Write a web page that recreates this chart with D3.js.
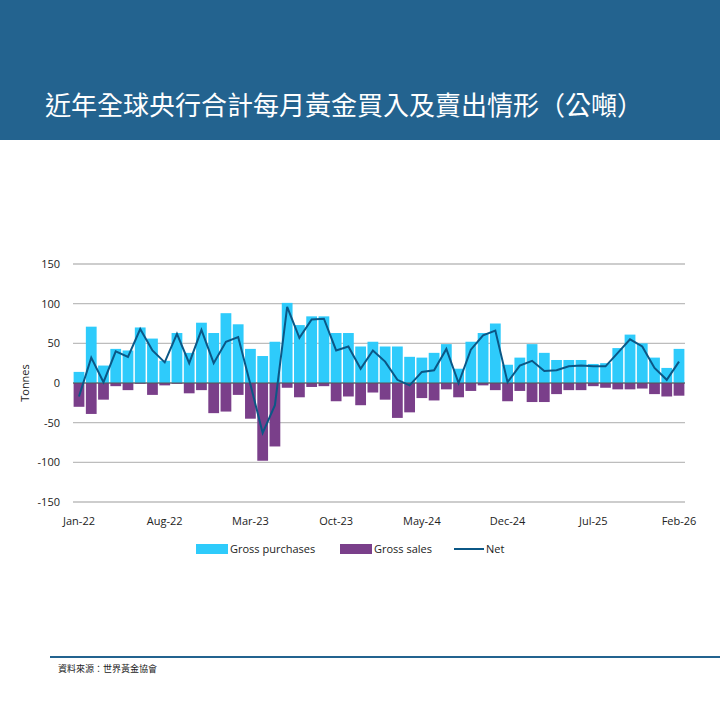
<!DOCTYPE html>
<html><head><meta charset="utf-8">
<script src="https://cdn.jsdelivr.net/npm/d3@7"></script>
<style>body{margin:0;background:#fff}svg{display:block;font-family:"Open Sans","Noto Sans CJK TC",sans-serif}</style>
</head><body><svg id="c" width="720" height="720"></svg>
<script>
const months = ["Jan-22","Feb-22","Mar-22","Apr-22","May-22","Jun-22","Jul-22","Aug-22","Sep-22","Oct-22","Nov-22","Dec-22",
"Jan-23","Feb-23","Mar-23","Apr-23","May-23","Jun-23","Jul-23","Aug-23","Sep-23","Oct-23","Nov-23","Dec-23",
"Jan-24","Feb-24","Mar-24","Apr-24","May-24","Jun-24","Jul-24","Aug-24","Sep-24","Oct-24","Nov-24","Dec-24",
"Jan-25","Feb-25","Mar-25","Apr-25","May-25","Jun-25","Jul-25","Aug-25","Sep-25","Oct-25","Nov-25","Dec-25",
"Jan-26","Feb-26"];
const grossPurchases = [14,71,22,43,41,70,56,28,63,38,76,63, 88,74,43,34,52,101,73,84,84,63,63,46, 52,46,46,33,32,38,49,18,52,63,75,23, 32,49,38,29,29,29,24,25,44,61,50,32, 19,43];
const grossSales = [-30,-39,-21,-4,-9,-1,-15,-3,-1,-13,-9,-38, -36,-15,-45,-98,-80,-6,-18,-5,-4,-23,-17,-28, -12,-21,-44,-37,-19,-22,-8,-18,-10,-3,-9,-23, -10,-24,-24,-14,-9,-9,-4,-6,-8,-8,-7,-14, -17,-16];
const net = [-17,32,1,40,33,68,41,26,62,25,67,25, 52,58,-2,-63,-28,96,57,80,81,41,46,18, 41,27,4,-3,14,16,43,0,42,60,66,1, 22,28,15,16,21,22,21,21,38,55,46,19, 4,27];
const xTicks = ["Jan-22","Aug-22","Mar-23","Oct-23","May-24","Dec-24","Jul-25","Feb-26"];
const yTicks = [150,100,50,0,-50,-100,-150];

const svg = d3.select("#c");
svg.append("rect").attr("width",720).attr("height",140).attr("fill","#23638f");
svg.append("text").attr("x",45).attr("y",115).attr("fill","#fff").attr("font-size",26)
  .attr("font-family","'Noto Sans CJK TC',sans-serif").text("近年全球央行合計每月黃金買入及賣出情形（公噸）");

const x = d3.scaleBand().domain(months).range([73,685]).paddingInner(0.12).paddingOuter(0.05);
const y = d3.scaleLinear().domain([-150,150]).range([502,264]);

const g = svg.append("g");
yTicks.forEach(t=>{
  g.append("line").attr("x1",73).attr("x2",685).attr("y1",y(t)).attr("y2",y(t))
   .attr("stroke","#bdbdbd").attr("stroke-width",1.3);
  g.append("text").attr("x",60).attr("y",y(t)+4).attr("text-anchor","end").attr("font-size",11).attr("fill","#222").text(t);
});
g.selectAll(".p").data(months).join("rect").attr("x",d=>x(d)).attr("width",x.bandwidth())
  .attr("y",(d,i)=>y(grossPurchases[i])).attr("height",(d,i)=>y(0)-y(grossPurchases[i])).attr("fill","#2ecbfb");
g.selectAll(".s").data(months).join("rect").attr("x",d=>x(d)).attr("width",x.bandwidth())
  .attr("y",y(0)).attr("height",(d,i)=>y(grossSales[i])-y(0)).attr("fill","#7a3f8a");
g.append("line").attr("x1",73).attr("x2",685).attr("y1",y(0)).attr("y2",y(0)).attr("stroke","#555").attr("stroke-width",1);
g.append("path").datum(net).attr("fill","none").attr("stroke","#0b5786").attr("stroke-width",2)
  .attr("d",d3.line().x((d,i)=>x(months[i])+x.bandwidth()/2).y(d=>y(d)));
xTicks.forEach(t=>{
  g.append("text").attr("x",x(t)+x.bandwidth()/2).attr("y",525).attr("text-anchor","middle").attr("font-size",11).attr("fill","#222").text(t);
});
svg.append("text").attr("transform","translate(29,383) rotate(-90)").attr("text-anchor","middle").attr("font-size",11).attr("fill","#222").text("Tonnes");

const lg = svg.append("g").attr("font-size",11).attr("fill","#222");
lg.append("rect").attr("x",196).attr("y",544).attr("width",32).attr("height",10).attr("fill","#2ecbfb");
lg.append("text").attr("x",230).attr("y",553).text("Gross purchases");
lg.append("rect").attr("x",340).attr("y",544).attr("width",32).attr("height",10).attr("fill","#7a3f8a");
lg.append("text").attr("x",374).attr("y",553).text("Gross sales");
lg.append("line").attr("x1",454).attr("x2",484).attr("y1",549).attr("y2",549).attr("stroke","#0b5786").attr("stroke-width",2);
lg.append("text").attr("x",486).attr("y",553).text("Net");

svg.append("line").attr("x1",50).attr("x2",720).attr("y1",657).attr("y2",657).attr("stroke","#23638f").attr("stroke-width",2);
svg.append("text").attr("x",58).attr("y",672).attr("font-size",9).attr("fill","#222")
  .attr("font-family","'Noto Sans CJK TC',sans-serif").text("資料來源：世界黃金協會");
</script></body></html>
